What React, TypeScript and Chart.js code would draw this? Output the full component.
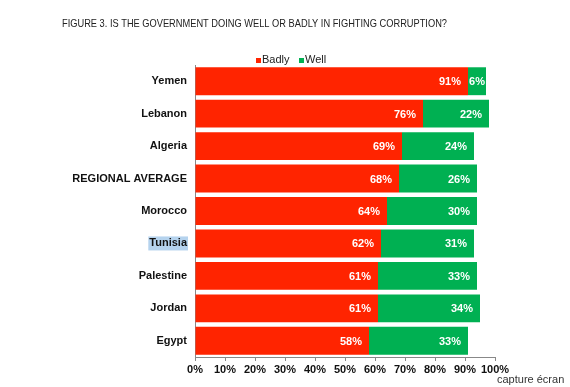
import React, { useEffect, useRef } from "react";
import { Chart, registerables } from "chart.js";

Chart.register(...registerables);

const categories = ["Yemen", "Lebanon", "Algeria", "REGIONAL AVERAGE", "Morocco", "Tunisia", "Palestine", "Jordan", "Egypt"];
const badly = [91, 76, 69, 68, 64, 62, 61, 61, 58];
const well = [6, 22, 24, 26, 30, 31, 33, 34, 33];
const xTicks = [0, 10, 20, 30, 40, 50, 60, 70, 80, 90, 100];
const titleText = "FIGURE 3. IS THE GOVERNMENT DOING WELL OR BADLY IN FIGHTING CORRUPTION?";
const highlighted = "Tunisia";
const RED = "#ff2400";
const GREEN = "#00b052";
const FONT = "'Liberation Sans', Arial, sans-serif";

const decorPlugin = {
  id: "decor",
  beforeDraw(chart: any) {
    const ctx = chart.ctx;
    const y = chart.scales.y;
    const idx = categories.indexOf(highlighted);
    if (idx >= 0) {
      const py = y.getPixelForValue(idx);
      ctx.save();
      ctx.font = `bold 11px ${FONT}`;
      const w = ctx.measureText(highlighted).width;
      ctx.fillStyle = "#b5d3ee";
      ctx.fillRect(187 - w - 1, py - 7, w + 2, 14);
      ctx.restore();
    }
  },
  afterDatasetsDraw(chart: any) {
    const ctx = chart.ctx;
    ctx.save();
    ctx.font = `bold 11px ${FONT}`;
    ctx.fillStyle = "#ffffff";
    ctx.textBaseline = "middle";
    ctx.textAlign = "left";
    const pad = 7;
    const m0 = chart.getDatasetMeta(0).data;
    const m1 = chart.getDatasetMeta(1).data;
    for (let i = 0; i < categories.length; i++) {
      const t1 = well[i] + "%";
      const t0 = badly[i] + "%";
      const w1 = ctx.measureText(t1).width;
      const w0 = ctx.measureText(t0).width;
      const b1 = m1[i];
      const b0 = m0[i];
      let x1 = b1.x - pad - w1;
      const seg1 = b1.x - b1.base;
      if (seg1 < w1 + 2 * pad) x1 = b1.base + (seg1 - w1) / 2;
      let x0 = b0.x - pad - w0;
      if (x0 + w0 > x1 - 3) x0 = x1 - 3 - w0;
      ctx.fillText(t0, x0, b0.y + 1);
      ctx.fillText(t1, x1, b1.y + 1);
    }
    ctx.restore();
  },
  afterDraw(chart: any) {
    const ctx = chart.ctx;
    ctx.save();
    ctx.fillStyle = "#222";
    ctx.textBaseline = "middle";
    ctx.font = `11px ${FONT}`;
    ctx.textAlign = "left";
    const tw = ctx.measureText(titleText).width;
    const sx = 385 / tw;
    ctx.save();
    ctx.translate(62, 24);
    ctx.scale(sx, 1);
    ctx.fillText(titleText, 0, 0);
    ctx.restore();
    // legend
    ctx.fillStyle = RED;
    ctx.fillRect(256, 58, 5, 5);
    ctx.fillStyle = "#222";
    ctx.fillText("Badly", 262, 60);
    ctx.fillStyle = GREEN;
    ctx.fillRect(299, 58, 5, 5);
    ctx.fillStyle = "#222";
    ctx.fillText("Well", 305, 60);
    ctx.fillStyle = "#333";
    ctx.fillText("capture écran", 497, 380);
    ctx.restore();
  },
};

export default function App() {
  const ref = useRef<HTMLCanvasElement>(null);
  useEffect(() => {
    if (!ref.current) return;
    const chart = new Chart(ref.current, {
      type: "bar",
      data: {
        labels: categories,
        datasets: [
          { label: "Badly", data: badly, backgroundColor: RED, categoryPercentage: 1, barPercentage: 0.86 },
          { label: "Well", data: well, backgroundColor: GREEN, categoryPercentage: 1, barPercentage: 0.86 },
        ],
      },
      options: {
        indexAxis: "y",
        animation: false,
        responsive: false,
        maintainAspectRatio: false,
        layout: { padding: { top: 65, right: 75, left: 0, bottom: 0 } },
        plugins: { legend: { display: false }, tooltip: { enabled: false } },
        scales: {
          x: {
            stacked: true,
            min: 0,
            max: 100,
            afterBuildTicks: (s: any) => {
              s.ticks = xTicks.map((v) => ({ value: v }));
            },
            afterFit: (s: any) => {
              s.height = 30;
            },
            ticks: {
              callback: (v: any) => v + "%",
              color: "#111",
              font: { family: FONT, size: 11, weight: "bold" },
              padding: 2,
              maxRotation: 0,
              autoSkip: false,
            },
            grid: { drawOnChartArea: false, drawTicks: true, tickLength: 4, color: "#888" },
            border: { color: "#888" },
          },
          y: {
            stacked: true,
            afterFit: (s: any) => {
              s.width = 195;
            },
            ticks: {
              color: "#111",
              font: { family: FONT, size: 11, weight: "bold" },
              padding: 8,
            },
            grid: { display: false, drawTicks: false },
            border: { color: "#888" },
          },
        },
      },
      plugins: [decorPlugin],
    });
    return () => chart.destroy();
  }, []);
  return (
    <div style={{ position: "absolute", left: 0, top: 0, width: 570, height: 387, background: "#fff" }}>
      <canvas ref={ref} width={570} height={387} style={{ width: 570, height: 387 }} />
    </div>
  );
}
